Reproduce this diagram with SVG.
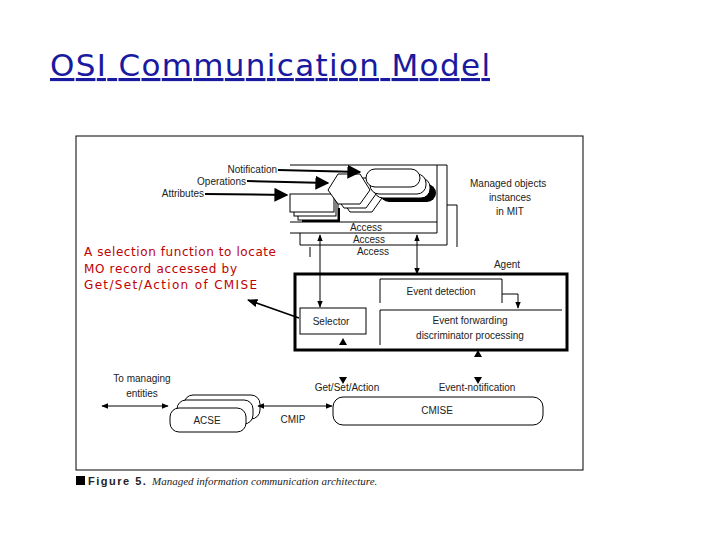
<svg xmlns="http://www.w3.org/2000/svg" width="720" height="540" viewBox="0 0 720 540">
<defs>
<marker id="ah" viewBox="0 0 10 10" refX="9" refY="5" markerWidth="7" markerHeight="7" orient="auto-start-reverse"><path d="M0,1 L10,5 L0,9 z" fill="#000"/></marker>
<marker id="big" viewBox="0 0 10 10" refX="9" refY="5" markerWidth="7" markerHeight="7" orient="auto"><path d="M0,0 L10,5 L0,10 z" fill="#000"/></marker>
</defs>
<style>
text{font-family:"Liberation Sans",Arial,sans-serif;font-size:10px;fill:#222}
.l{fill:none;stroke:#000;stroke-width:1}
.w{fill:#fff;stroke:#000;stroke-width:1}
.red{font-family:"DejaVu Sans",sans-serif;font-size:12px;fill:#c00000}
</style>
<rect width="720" height="540" fill="#fff"/>
<text x="50" y="76" style="font-family:'DejaVu Sans',sans-serif;font-size:31px;fill:#1a1aa0" textLength="440" text-decoration="underline">OSI Communication Model</text>
<rect x="76" y="136" width="507" height="334" class="l"/>
<g id="mit">
<path class="l" d="M290,165 H437 V233 H290 M290,222 H437"/>
<path class="l" d="M300,233 V245 H447 V165 H437"/>
<path class="l" d="M310,247 V257 M447,205 H457 V247"/>
<text x="366" y="231" text-anchor="middle">Access</text>
<text x="369" y="243" text-anchor="middle">Access</text>
<text x="373" y="255" text-anchor="middle">Access</text>
<rect x="302" y="208" width="38" height="14" fill="#000"/>
<rect x="298" y="202" width="40" height="18" class="w"/>
<rect x="294" y="198" width="42" height="18" class="w"/>
<rect x="290" y="194" width="44" height="18" class="w"/>
<polygon class="w" points="350,182 372,182 382,198 372,212 350,212 340,198"/>
<polygon class="w" points="344,178 366,178 376,194 366,208 344,208 334,194"/>
<polygon class="w" points="338,174 360,174 370,190 360,204 338,204 328,190"/>
<rect x="380" y="184" width="56" height="18" rx="9" fill="#000"/>
<rect x="374" y="178" width="56" height="20" rx="9" class="w"/>
<rect x="370" y="174" width="56" height="20" rx="9" class="w"/>
<rect x="366" y="169" width="54" height="18" rx="9" class="w"/>
<text x="470" y="187">Managed objects</text>
<text x="510" y="201" text-anchor="middle">instances</text>
<text x="510" y="215" text-anchor="middle">in MIT</text>
</g>
<g id="inputs">
<text x="277" y="173" text-anchor="end">Notification</text>
<text x="246" y="185" text-anchor="end">Operations</text>
<text x="204" y="197" text-anchor="end">Attributes</text>
</g>
<g id="agent">
<rect x="295" y="274" width="272" height="76" fill="none" stroke="#000" stroke-width="3"/>
<text x="507" y="268" text-anchor="middle">Agent</text>
<path class="l" d="M380,303 V279 H502 V303"/>
<text x="441" y="295" text-anchor="middle">Event detection</text>
<path class="l" d="M380,345 V310 H562"/>
<text x="470" y="324" text-anchor="middle">Event forwarding</text>
<text x="470" y="339" text-anchor="middle">discriminator  processing</text>
<rect x="300" y="308" width="66" height="26" class="w"/>
<text x="331" y="325" text-anchor="middle">Selector</text>
</g>
<g id="bottom">
<text x="142" y="382" text-anchor="middle">To managing</text>
<text x="142" y="397" text-anchor="middle">entities</text>
<rect x="184" y="395" width="76" height="24" rx="9" class="w"/>
<rect x="177" y="400" width="76" height="24" rx="9" class="w"/>
<rect x="170" y="408" width="76" height="24" rx="9" class="w"/>
<text x="207" y="424" text-anchor="middle">ACSE</text>
<text x="293" y="423" text-anchor="middle">CMIP</text>
<rect x="333" y="397" width="210" height="28" rx="10" class="w"/>
<text x="437" y="414" text-anchor="middle">CMISE</text>
<text x="347" y="391" text-anchor="middle">Get/Set/Action</text>
<text x="477" y="391" text-anchor="middle">Event-notification</text>
</g>
<g id="connectors">
<line x1="278" y1="170" x2="360" y2="172" stroke="#000" stroke-width="2" marker-end="url(#big)"/>
<line x1="247" y1="181" x2="328" y2="183" stroke="#000" stroke-width="2" marker-end="url(#big)"/>
<line x1="205" y1="194" x2="287" y2="195" stroke="#000" stroke-width="2" marker-end="url(#big)"/>
<line x1="320" y1="235" x2="320" y2="307" class="l" marker-start="url(#ah)" marker-end="url(#ah)"/>
<line x1="417" y1="235" x2="417" y2="274" class="l" marker-start="url(#ah)" marker-end="url(#ah)"/>
<path class="l" d="M502,294 H518 V308" marker-end="url(#ah)"/>
<polygon points="339,345 347,345 343,338" fill="#000"/>
<polygon points="474,357 482,357 478,350" fill="#000"/>
<polygon points="339,377 347,377 343,384" fill="#000"/>
<polygon points="474,377 482,377 478,384" fill="#000"/>
<line x1="102" y1="406" x2="168" y2="406" class="l" marker-start="url(#ah)" marker-end="url(#ah)"/>
<line x1="258" y1="406" x2="332" y2="406" class="l" marker-start="url(#ah)" marker-end="url(#ah)"/>
<line x1="299" y1="318" x2="248" y2="300" stroke="#000" stroke-width="1.5" marker-end="url(#ah)"/>
</g>
<g id="annotation">
<rect x="81" y="242" width="205" height="52" fill="#fff"/>
<text class="red" x="84" y="256" textLength="192">A selection function to locate</text>
<text class="red" x="84" y="273" textLength="153">MO record accessed by</text>
<text class="red" x="84" y="289" textLength="173">Get/Set/Action of CMISE</text>
</g>
<g id="caption">
<rect x="76" y="476" width="9" height="9" fill="#000"/>
<text x="88" y="485" style="font-weight:bold;font-size:11px;letter-spacing:1.5px">Figure 5.</text>
<text x="152" y="485" style="font-family:'Liberation Serif',serif;font-style:italic;font-size:11px">Managed information communication architecture.</text>
</g>
</svg>
